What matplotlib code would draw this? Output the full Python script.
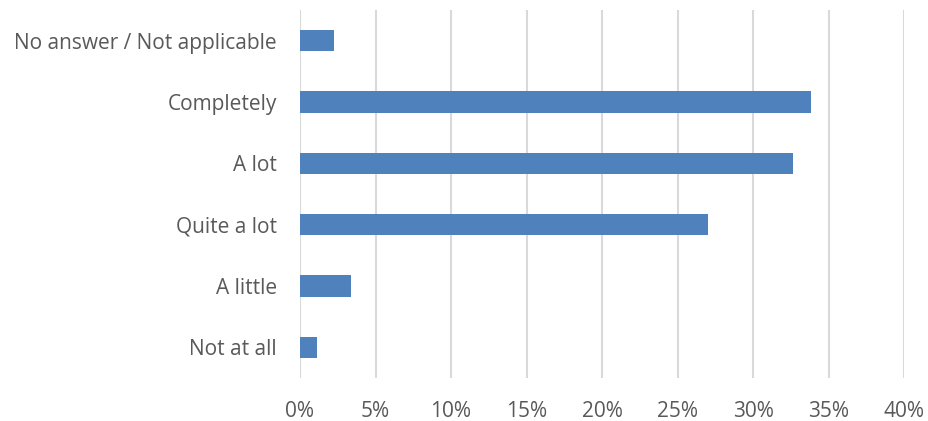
import matplotlib.pyplot as plt
from matplotlib.ticker import PercentFormatter

categories = ['Not at all', 'A little', 'Quite a lot', 'A lot', 'Completely',
              'No answer / Not applicable']
shares = [1.1, 3.35, 27.0, 32.65, 33.8, 2.25]
ticks = [0, 5, 10, 15, 20, 25, 30, 35, 40]

plt.rcParams['font.family'] = ['Open Sans', 'DejaVu Sans']
text_color = '#595959'

fig = plt.figure(figsize=(9.29, 4.21), dpi=100)
ax = fig.add_axes([0.3229, 0.1021, 0.6505, 0.8740])

ax.barh(range(len(categories)), shares, height=0.35, color='#4F81BD', zorder=3)

ax.set_xlim(0, 40)
ax.set_ylim(-0.5, len(categories) - 0.5)
ax.set_xticks(ticks)
ax.xaxis.set_major_formatter(PercentFormatter(decimals=0))
ax.set_yticks(range(len(categories)))
ax.set_yticklabels(categories)

ax.grid(axis='x', color='#D9D9D9', linewidth=1.5, zorder=0)
for side in ['top', 'right', 'bottom', 'left']:
    ax.spines[side].set_visible(False)
ax.tick_params(axis='both', length=0, labelsize=15, colors=text_color)
ax.tick_params(axis='x', pad=16.5)
ax.tick_params(axis='y', pad=16.5)

fig.savefig('out.png', dpi=100)
